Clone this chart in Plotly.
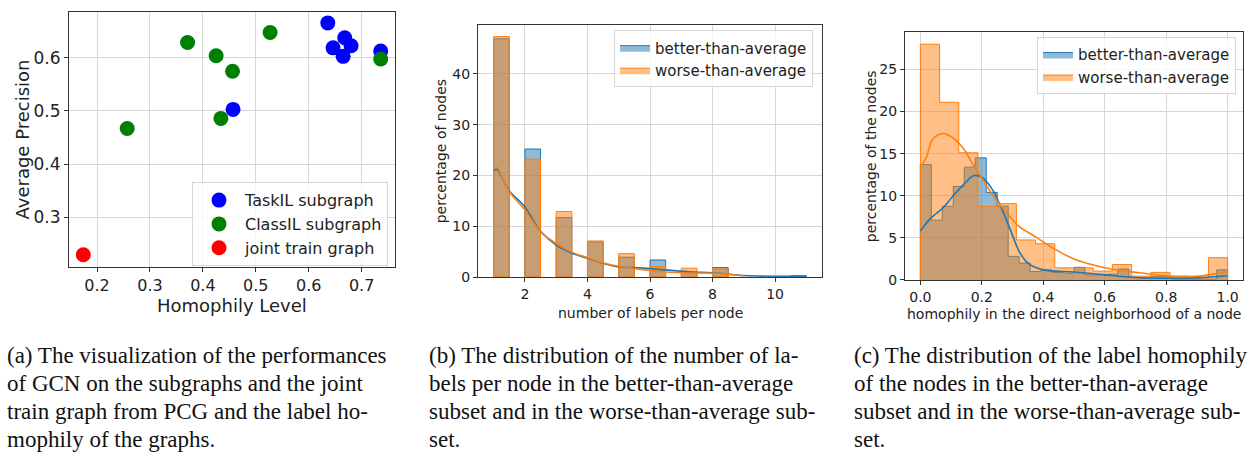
import numpy as np
import plotly.graph_objects as go

W, H = 1258, 452

# ---- (a) average precision of GCN vs. homophily level ----
taskil_homophily = [0.636, 0.668, 0.646, 0.680, 0.665, 0.736, 0.457]
taskil_ap = [0.666, 0.638, 0.619, 0.623, 0.603, 0.613, 0.503]
classil_homophily = [0.371, 0.527, 0.425, 0.456, 0.434, 0.257, 0.736]
classil_ap = [0.629, 0.648, 0.604, 0.575, 0.486, 0.467, 0.598]
joint_homophily = [0.174]
joint_ap = [0.229]

# ---- (b) number of labels per node, % of nodes (20 bins of 0.5 on [1, 11]) ----
label_bin_edges = np.linspace(1, 11, 21)
better_label_pct = [46.9, 0, 25.2, 0, 11.7, 0, 6.9, 0, 3.9, 0,
                    3.35, 0, 1.0, 0, 1.86, 0, 0, 0, 0, 0.25]
worse_label_pct = [47.35, 0, 23.2, 0, 12.9, 0, 7.1, 0, 4.6, 0,
                   2.05, 0, 1.74, 0, 1.6, 0, 0, 0, 0, 0]
better_label_kde_x = [1.0, 1.1, 1.5, 2.0, 2.5, 3.0, 3.5, 4.0, 4.5, 5.0, 5.7, 6.5, 7.3, 8.0, 9.0, 10.0, 11.0]
better_label_kde = [20.9, 21.2, 17.0, 13.8, 9.0, 6.3, 4.7, 3.7, 2.7, 2.0, 1.8, 1.4, 1.0, 0.85, 0.3, 0.15, 0.15]
worse_label_kde_x = [1.0, 1.1, 1.5, 2.0, 2.5, 3.0, 3.5, 4.0, 4.5, 5.0, 5.7, 6.5, 7.3, 8.0, 8.5, 9.0]
worse_label_kde = [21.3, 21.6, 16.8, 13.2, 8.9, 6.6, 4.9, 3.8, 2.8, 2.1, 1.5, 1.0, 0.8, 0.75, 0.5, 0.2]

# ---- (c) label homophily of the direct neighbourhood, % of nodes ----
better_homo_edges = np.linspace(0, 1, 29)   # 28 bins
better_homo_pct = [13.7, 7.1, 8.75, 11.1, 13.4, 14.5, 10.4, 8.75, 2.8, 2.0,
                   1.0, 1.2, 0.9, 0.8, 1.5, 0.6, 0.6, 0.7, 1.3, 0.3,
                   0.2, 0.4, 0.4, 0.1, 0.1, 0.1, 0.1, 1.2]
worse_homo_edges = np.linspace(0, 1, 17)    # 16 bins
worse_homo_pct = [28.0, 21.1, 15.1, 8.75, 9.06, 4.75, 4.3, 1.44,
                  1.44, 1.05, 1.83, 0.45, 0.9, 0.45, 0.25, 2.65]
better_homo_kde_x = [0, 0.03, 0.075, 0.105, 0.145, 0.175, 0.2, 0.235, 0.27, 0.3,
                     0.32, 0.35, 0.4, 0.5, 0.6, 0.7, 0.8, 0.9, 1.0]
better_homo_kde = [5.8, 7.2, 8.6, 9.9, 11.5, 12.4, 12.2, 10.7, 8.0, 5.3,
                   3.5, 2.0, 1.2, 0.95, 0.6, 0.3, 0.2, 0.25, 0.5]
worse_homo_kde_x = [0, 0.02, 0.04, 0.075, 0.105, 0.14, 0.17, 0.2, 0.235, 0.28,
                    0.32, 0.38, 0.44, 0.5, 0.56, 0.62, 0.7, 0.8, 0.88, 0.94, 1.0]
worse_homo_kde = [13.4, 14.6, 16.7, 17.4, 16.9, 15.6, 13.8, 12.1, 10.1, 8.0,
                  6.4, 5.0, 3.6, 2.5, 1.8, 1.3, 0.9, 0.5, 0.4, 0.6, 1.0]

captions = [
    (5, ["(a) The visualization of the performances",
         "of GCN on the subgraphs and the joint",
         "train graph from PCG and the label ho-",
         "mophily of the graphs."]),
    (427, ["(b) The distribution of the number of la-",
           "bels per node in the better-than-average",
           "subset and in the worse-than-average sub-",
           "set."]),
    (852, ["(c) The distribution of the label homophily",
           "of the nodes in the better-than-average",
           "subset and in the worse-than-average sub-",
           "set."]),
]

BLUE, ORANGE = "#1f77b4", "#ff7f0e"
BLUE_FILL, ORANGE_FILL = "rgba(31,119,180,0.5)", "rgba(255,127,14,0.5)"
FONT = "DejaVu Sans"


def px(x):
    return x / W


def py(y):
    return 1 - y / H


def step_xy(edges, pct):
    xs = [edges[0]] + list(edges[:-1]) + [edges[-1]]
    ys = [0] + list(pct) + [0]
    return xs, ys


fig = go.Figure()

# (a)
for xs, ys, name, color in [(taskil_homophily, taskil_ap, "TaskIL subgraph", "blue"),
                            (classil_homophily, classil_ap, "ClassIL subgraph", "green"),
                            (joint_homophily, joint_ap, "joint train graph", "red")]:
    fig.add_trace(go.Scatter(x=xs, y=ys, mode="markers", name=name,
                             marker=dict(color=color, size=15, line=dict(width=0)),
                             xaxis="x", yaxis="y", legend="legend"))

# (b)
centers = (label_bin_edges[:-1] + label_bin_edges[1:]) / 2
for pct, line_c, fill_c in [(better_label_pct, BLUE, BLUE_FILL), (worse_label_pct, ORANGE, ORANGE_FILL)]:
    fig.add_trace(go.Bar(x=centers, y=[v if v > 0 else None for v in pct], width=0.5,
                         marker=dict(color=fill_c, line=dict(color=line_c, width=1)),
                         showlegend=False, xaxis="x2", yaxis="y2"))
for kx, ky, c in [(better_label_kde_x, better_label_kde, BLUE), (worse_label_kde_x, worse_label_kde, ORANGE)]:
    fig.add_trace(go.Scatter(x=kx, y=ky, mode="lines", line=dict(color=c, width=1.6, shape="spline"),
                             showlegend=False, xaxis="x2", yaxis="y2"))
for name, line_c, fill_c in [("better-than-average", BLUE, BLUE_FILL), ("worse-than-average", ORANGE, ORANGE_FILL)]:
    fig.add_trace(go.Scatter(x=[None], y=[None], mode="lines", name=name, fill="toself",
                             fillcolor=fill_c, line=dict(color=line_c, width=1),
                             xaxis="x2", yaxis="y2", legend="legend2"))

# (c)
for edges, pct, name, line_c, fill_c in [(better_homo_edges, better_homo_pct, "better-than-average", BLUE, BLUE_FILL),
                                         (worse_homo_edges, worse_homo_pct, "worse-than-average", ORANGE, ORANGE_FILL)]:
    sx, sy = step_xy(edges, pct)
    fig.add_trace(go.Scatter(x=sx, y=sy, mode="lines", name=name, fill="tozeroy", fillcolor=fill_c,
                             line=dict(color=line_c, width=1, shape="hv"),
                             xaxis="x3", yaxis="y3", legend="legend3"))
for kx, ky, c in [(better_homo_kde_x, better_homo_kde, BLUE), (worse_homo_kde_x, worse_homo_kde, ORANGE)]:
    fig.add_trace(go.Scatter(x=kx, y=ky, mode="lines", line=dict(color=c, width=1.6, shape="spline"),
                             showlegend=False, xaxis="x3", yaxis="y3"))

axis_style = dict(showline=True, mirror=True, linecolor="#333333", linewidth=1,
                  ticks="outside", ticklen=4, tickcolor="#333333",
                  showgrid=True, gridcolor="#d6d6d6", gridwidth=1, zeroline=False)

fig.update_layout(
    width=W, height=H, margin=dict(l=0, r=0, t=0, b=0),
    paper_bgcolor="white", plot_bgcolor="white",
    font=dict(family=FONT, color="#222222"),
    barmode="overlay", hovermode=False,
    xaxis=dict(domain=[px(69), px(395)], range=[0.147, 0.763], tickvals=[0.2, 0.3, 0.4, 0.5, 0.6, 0.7],
               tickfont=dict(size=16), anchor="y", **axis_style),
    yaxis=dict(domain=[py(272), py(12)], range=[0.2056, 0.687], tickvals=[0.3, 0.4, 0.5, 0.6],
               tickfont=dict(size=17), anchor="x", **axis_style),
    xaxis2=dict(domain=[px(478), px(822)], range=[0.5, 11.5], tickvals=[2, 4, 6, 8, 10],
                tickfont=dict(size=14), anchor="y2", **axis_style),
    yaxis2=dict(domain=[py(282), py(25)], range=[0, 49.7], tickvals=[0, 10, 20, 30, 40],
                tickfont=dict(size=14), anchor="x2", **axis_style),
    xaxis3=dict(domain=[px(905), px(1243)], range=[-0.05, 1.05], tickvals=[0, 0.2, 0.4, 0.6, 0.8, 1.0],
                tickformat=".1f", tickfont=dict(size=14), anchor="y3", **axis_style),
    yaxis3=dict(domain=[py(285), py(33)], range=[0, 29.4], tickvals=[0, 5, 10, 15, 20, 25],
                tickfont=dict(size=14), anchor="x3", **axis_style),
    legend=dict(x=px(388), y=py(271), xanchor="right", yanchor="bottom", font=dict(size=16),
                bgcolor="rgba(255,255,255,0.8)", bordercolor="#d6d6d6", borderwidth=1, itemwidth=42),
    legend2=dict(x=px(813), y=py(31), xanchor="right", yanchor="top", font=dict(size=15),
                 bgcolor="rgba(255,255,255,0.8)", bordercolor="#d6d6d6", borderwidth=1),
    legend3=dict(x=px(1236), y=py(38), xanchor="right", yanchor="top", font=dict(size=15),
                 bgcolor="rgba(255,255,255,0.8)", bordercolor="#d6d6d6", borderwidth=1),
)

# axis titles
titles = [
    ("Homophily Level", 232, 311, 0, 18),
    ("Average Precision", 22, 142, -90, 18),
    ("number of labels per node", 650, 319, 0, 14),
    ("percentage of nodes", 441, 154, -90, 14),
    ("homophily in the direct neighborhood of a node", 1074, 320, 0, 14),
    ("percentage of the nodes", 871, 159, -90, 14),
]
for text, x, y, ang, size in titles:
    fig.add_annotation(text=text, x=px(x), y=py(y), xref="paper", yref="paper",
                       xanchor="center", yanchor="middle", textangle=ang, showarrow=False,
                       font=dict(size=size, family=FONT, color="#222222"))

# captions
for x0, lines in captions:
    for i, line in enumerate(lines):
        fig.add_annotation(text=line, x=px(x0), y=py(362 + i * 28.6), xref="paper", yref="paper",
                           xanchor="left", yanchor="middle", showarrow=False,
                           font=dict(size=23, family="Liberation Serif", color="#111111"))

# the page's default body margin would push the figure 8px off; drop it
fig.write_html("out.html", config={"displayModeBar": False},
               post_script="document.body.style.margin='0';")
